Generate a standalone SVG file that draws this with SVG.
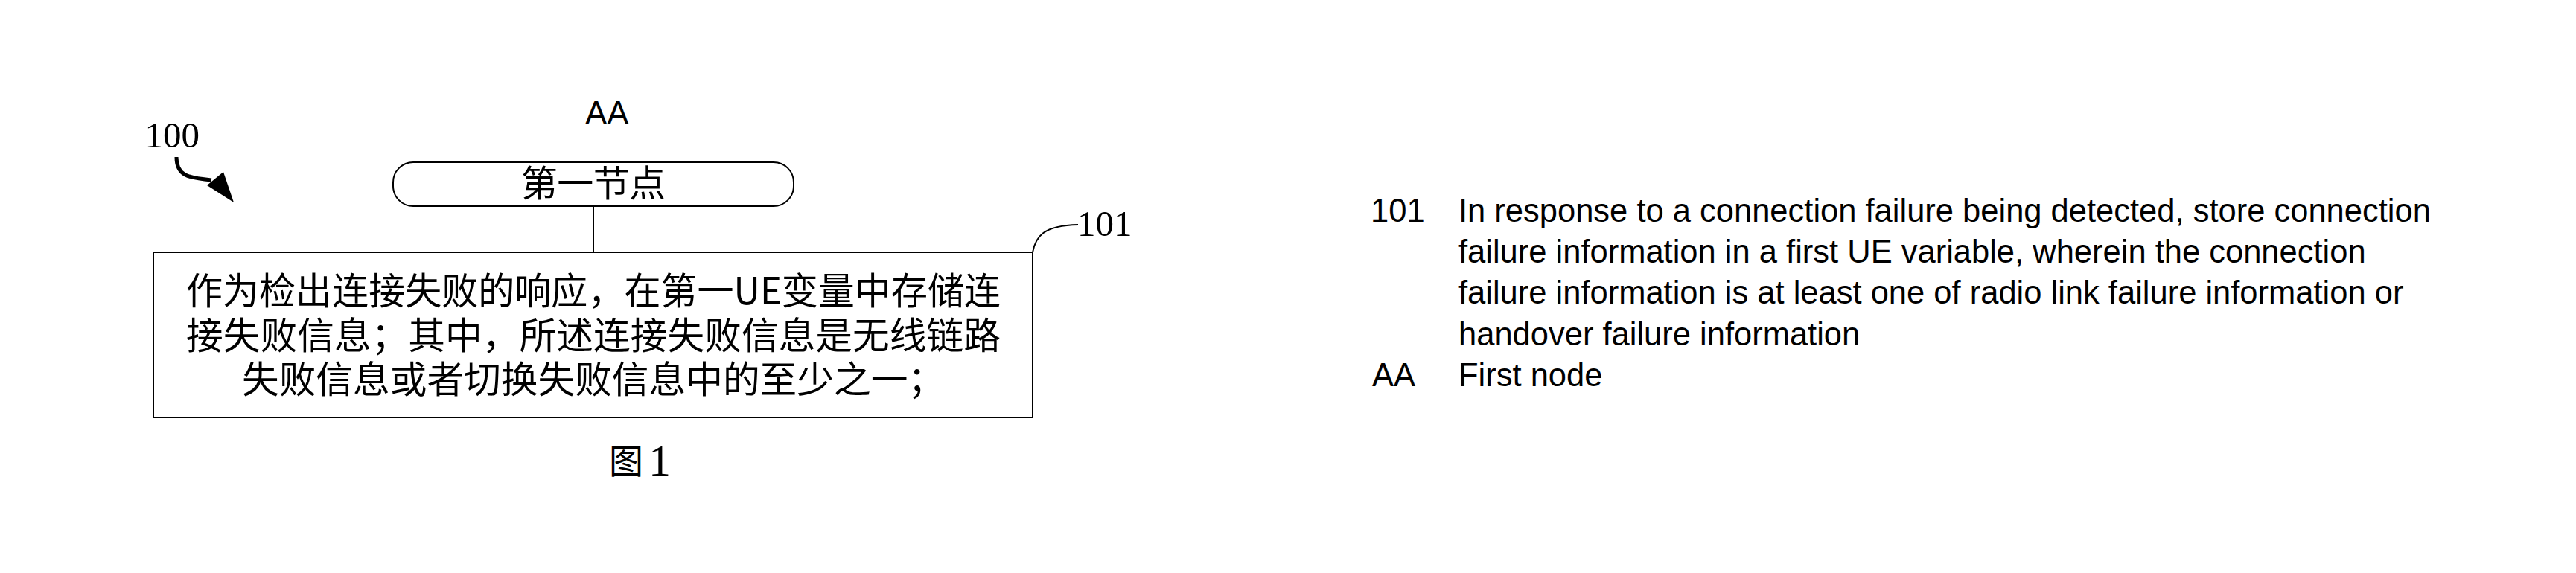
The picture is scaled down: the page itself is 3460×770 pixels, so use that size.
<svg xmlns="http://www.w3.org/2000/svg" width="3460" height="770" viewBox="0 0 3460 770">
<style>
.cjk{font-family:"Noto Sans CJK SC","Noto Sans CJK JP",sans-serif;fill:#000}
.ser{font-family:"Liberation Serif","Times New Roman",serif;fill:#000}
.san{font-family:"Liberation Sans",Arial,sans-serif;fill:#000}
.box{fill:#fff;stroke:#000;stroke-width:2}
.ln{fill:none;stroke:#000;stroke-width:2}
</style>
<rect width="3460" height="770" fill="#fff"/>
<g id="label-100">
<text class="ser" x="194.5" y="198" font-size="49">100</text>
<path d="M237,211 C237,236 252,239 284,242" fill="none" stroke="#000" stroke-width="5"/>
<polygon points="314,272 278,249 300,231" fill="#000"/>
</g>
<g id="connectors">
<line class="ln" x1="797" y1="277" x2="797" y2="339"/>
<path class="ln" d="M1387,339 C1391,318 1401,303 1448,302" stroke-width="1.5"/>
</g>
<g id="node-AA">
<text class="san" x="786" y="167" font-size="44">AA</text>
<rect class="box" x="528" y="218" width="538" height="59" rx="27" ry="27"/>
<text class="cjk" x="797" y="264" font-size="49" text-anchor="middle" textLength="194">第一节点</text>
</g>
<g id="node-101">
<rect class="box" x="206" y="339" width="1181" height="222"/>
<text class="cjk" x="250" y="409" font-size="50" textLength="1094" lengthAdjust="spacingAndGlyphs">作为检出连接失败的响应，在第一UE变量中存储连</text>
<text class="cjk" x="250" y="469" font-size="50" textLength="1094" lengthAdjust="spacingAndGlyphs">接失败信息；其中，所述连接失败信息是无线链路</text>
<text class="cjk" x="325" y="528" font-size="50" textLength="944" lengthAdjust="spacingAndGlyphs">失败信息或者切换失败信息中的至少之一；</text>
<text class="ser" x="1447" y="317" font-size="49">101</text>
</g>
<g id="caption">
<text class="cjk" x="818" y="636" font-size="46">图</text>
<text class="ser" x="871" y="639" font-size="60">1</text>
</g>
<g id="legend">
<text class="san" x="1841" y="298" font-size="43.5">101</text>
<text class="san" x="1959" y="298" font-size="43.5">In response to a connection failure being detected, store connection</text>
<text class="san" x="1959" y="353" font-size="43.5">failure information in a first UE variable, wherein the connection</text>
<text class="san" x="1959" y="408" font-size="43.5">failure information is at least one of radio link failure information or</text>
<text class="san" x="1959" y="464" font-size="43.5">handover failure information</text>
<text class="san" x="1843" y="519" font-size="43.5">AA</text>
<text class="san" x="1959" y="519" font-size="43.5">First node</text>
</g>
</svg>
